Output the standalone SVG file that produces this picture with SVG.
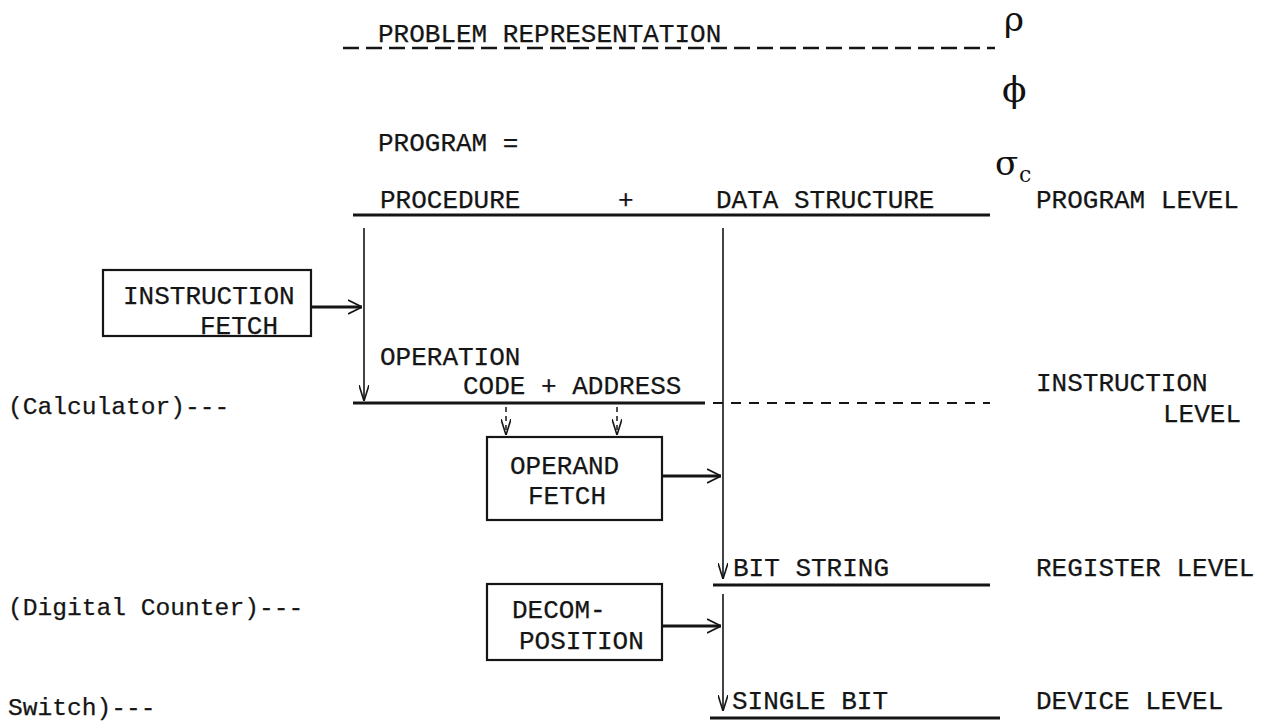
<svg xmlns="http://www.w3.org/2000/svg" width="1279" height="722" viewBox="0 0 1279 722">
<style>
.t{font-family:"Liberation Mono","DejaVu Sans Mono",monospace;font-size:26px;fill:#151515;stroke:#151515;stroke-width:0.25}
.l{font-family:"Liberation Mono","DejaVu Sans Mono",monospace;font-size:24.6px;fill:#151515;stroke:#151515;stroke-width:0.25}
.g{font-family:"DejaVu Serif","Liberation Serif",serif;fill:#111}
.box{fill:none;stroke:#151515;stroke-width:2.2}
.thin{fill:none;stroke:#151515;stroke-width:1.6}
.thick{fill:none;stroke:#151515;stroke-width:3}
</style>
<defs>
<marker id="v" viewBox="0 0 16 10" refX="16" refY="5" markerWidth="16" markerHeight="10" markerUnits="userSpaceOnUse" orient="auto">
<path d="M0,0 L16,5 L0,10" fill="none" stroke="#151515" stroke-width="1.6"/>
</marker>
<marker id="h" viewBox="0 0 14 16" refX="14" refY="8" markerWidth="14" markerHeight="16" markerUnits="userSpaceOnUse" orient="auto">
<path d="M0,1 L14,8 L0,15" fill="none" stroke="#151515" stroke-width="1.8"/>
</marker>
</defs>
<rect width="1279" height="722" fill="#fff"/>

<g id="levels">
<text class="t" x="378" y="42">PROBLEM REPRESENTATION</text>
<text class="t" x="378" y="151">PROGRAM =</text>
<text class="t" x="380" y="208">PROCEDURE</text>
<text class="t" x="618" y="208">+</text>
<text class="t" x="716" y="208">DATA STRUCTURE</text>
<text class="t" x="1036" y="208">PROGRAM LEVEL</text>
<text class="t" x="380" y="365">OPERATION</text>
<text class="t" x="463" y="394">CODE + ADDRESS</text>
<text class="t" x="1036" y="391">INSTRUCTION</text>
<text class="t" x="1163" y="422">LEVEL</text>
<text class="t" x="733" y="576">BIT STRING</text>
<text class="t" x="1036" y="576">REGISTER LEVEL</text>
<text class="t" x="732" y="709">SINGLE BIT</text>
<text class="t" x="1036" y="709">DEVICE LEVEL</text>
<text class="l" x="8" y="414">(Calculator)---</text>
<text class="l" x="8" y="615">(Digital Counter)---</text>
<text class="l" x="8" y="715">Switch)---</text>
</g>

<g id="symbols">
<text class="g" x="1004" y="31" font-size="34">ρ</text>
<text class="g" x="1002" y="102" font-size="36">ϕ</text>
<text class="g" x="995" y="175" font-size="34">σ</text>
<text class="g" x="1019" y="182" font-size="22">c</text>
</g>

<g id="instruction-fetch">
<rect class="box" x="103" y="270" width="208" height="66"/>
<text class="t" x="123" y="304">INSTRUCTION</text>
<text class="t" x="200" y="334">FETCH</text>
</g>

<g id="operand-fetch">
<rect class="box" x="487" y="437" width="175" height="83"/>
<text class="t" x="510" y="474">OPERAND</text>
<text class="t" x="528" y="504">FETCH</text>
</g>

<g id="decomposition">
<rect class="box" x="487" y="584" width="175" height="76"/>
<text class="t" x="512" y="618">DECOM-</text>
<text class="t" x="519" y="649">POSITION</text>
</g>

<g id="connectors">
<line x1="343" y1="48" x2="995" y2="48" stroke="#151515" stroke-width="2.5" stroke-dasharray="16 7"/>
<line class="thick" x1="353" y1="215" x2="990" y2="215"/>
<line class="thin" x1="364" y1="228" x2="364" y2="401" marker-end="url(#v)"/>
<line class="thin" x1="723" y1="228" x2="723" y2="579" marker-end="url(#v)"/>
<line class="thick" x1="353" y1="403" x2="705" y2="403"/>
<line x1="713" y1="403" x2="990" y2="403" stroke="#151515" stroke-width="2" stroke-dasharray="10 8"/>
<line x1="506" y1="407" x2="506" y2="435" stroke="#151515" stroke-width="1.5" stroke-dasharray="5 4" marker-end="url(#v)"/>
<line x1="617" y1="407" x2="617" y2="435" stroke="#151515" stroke-width="1.5" stroke-dasharray="5 4" marker-end="url(#v)"/>
<line class="thick" x1="311" y1="307" x2="362" y2="307" marker-end="url(#h)"/>
<line class="thick" x1="662" y1="476" x2="721" y2="476" marker-end="url(#h)"/>
<line class="thick" x1="713" y1="585" x2="990" y2="585"/>
<line class="thin" x1="723" y1="594" x2="723" y2="711" marker-end="url(#v)"/>
<line class="thick" x1="662" y1="626" x2="721" y2="626" marker-end="url(#h)"/>
<line class="thick" x1="710" y1="718" x2="1000" y2="718"/>
</g>
</svg>
